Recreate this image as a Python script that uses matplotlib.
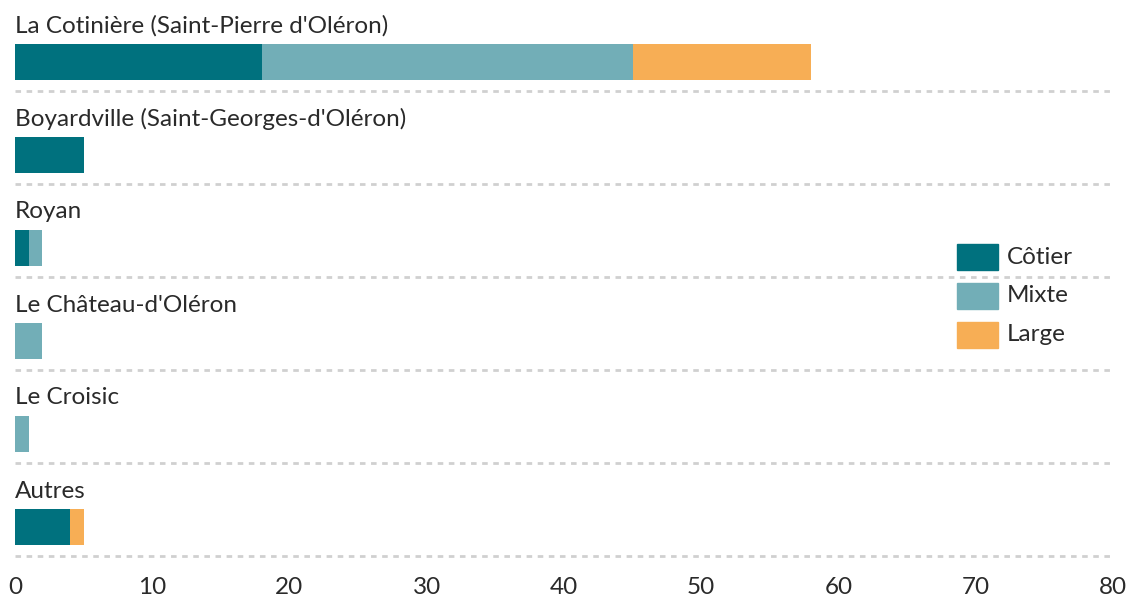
import matplotlib
matplotlib.use("Agg")
import matplotlib.pyplot as plt
from matplotlib.patches import Rectangle
import numpy as np

categories = ["La Cotinière (Saint-Pierre d'Oléron)",
              "Boyardville (Saint-Georges-d'Oléron)",
              "Royan",
              "Le Château-d'Oléron",
              "Le Croisic",
              "Autres"]
series_names = ["Côtier", "Mixte", "Large"]
cotier = [18, 5, 1, 0, 0, 4]
mixte = [27, 0, 1, 2, 1, 0]
large = [13, 0, 0, 0, 0, 1]
colors = ["#00717e", "#72aeb7", "#f7ae55"]
xticks = [0, 10, 20, 30, 40, 50, 60, 70, 80]

plt.rcParams['font.family'] = ['Lato', 'DejaVu Sans']
FS = 17.5
FW = 'normal'
TXT = "#2a2a2a"

W, H = 1130, 601
fig = plt.figure(figsize=(W / 100, H / 100), dpi=100)
top_px, bot_px = 10, 560
left_px, right_px = 15, 1113
ax = fig.add_axes([left_px / W, 1 - bot_px / H, (right_px - left_px) / W, (bot_px - top_px) / H])

row_px = 93.0
c0 = 62.0
ax.set_xlim(0, 80)
ax.set_ylim((bot_px - c0) / row_px, (top_px - c0) / row_px)

y = np.arange(len(categories))
bar_h = 36 / row_px
left = np.zeros(len(categories))
for vals, col, name in zip([cotier, mixte, large], colors, series_names):
    vals = np.array(vals, dtype=float)
    ax.barh(y, vals, left=left, height=bar_h, color=col, edgecolor='none', label=name)
    left += vals

for i, cat in enumerate(categories):
    ax.text(0, i - 36 / row_px, cat, ha='left', va='center', fontsize=FS,
            fontweight=FW, color=TXT)
    ax.axhline(i + 29 / row_px, color='#d0d0d0', lw=2.0, ls=(0, (2.0, 2.0)), zorder=0)

for s in ax.spines.values():
    s.set_visible(False)
ax.set_yticks([])
ax.set_xticks(xticks)
ax.set_xticklabels([str(t) for t in xticks], fontweight=FW)
ax.tick_params(axis='x', length=0, pad=12, labelsize=FS, labelcolor=TXT)

# legend
leg_x = 957
for k, (name, col) in enumerate(zip(series_names, colors)):
    cy = 257 + 39 * k
    fig.patches.append(Rectangle((leg_x / W, 1 - (cy + 13) / H), 41 / W, 26 / H,
                                 transform=fig.transFigure, color=col, figure=fig))
    fig.text((leg_x + 50) / W, 1 - cy / H, name, ha='left', va='center',
             fontsize=FS, fontweight=FW, color=TXT)

fig.savefig("out.png", dpi=100)
